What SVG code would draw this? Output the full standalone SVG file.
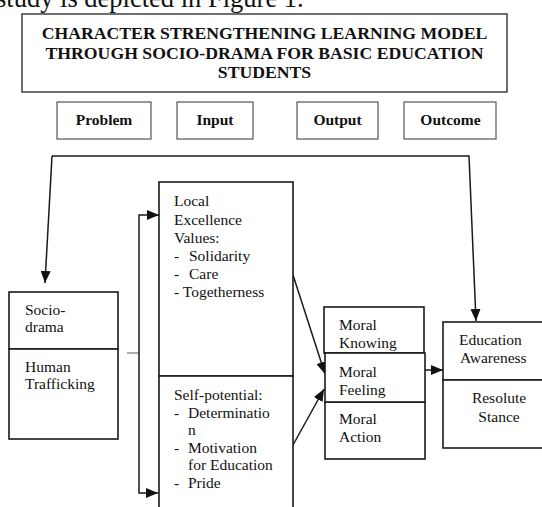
<svg xmlns="http://www.w3.org/2000/svg" width="542" height="507" viewBox="0 0 542 507">
<style>
  .box { fill: #fff; stroke: #1a1a1a; stroke-width: 1.6; }
  .hbox { fill: #fff; stroke: #555; stroke-width: 1.2; }
  .tbox { fill: #fff; stroke: #333; stroke-width: 1.4; }
  .t { font-family: "Liberation Serif", "Times New Roman", serif; font-size: 15.5px; fill: #111; }
  .h { font-family: "Liberation Serif", "Times New Roman", serif; font-size: 15.5px; font-weight: bold; fill: #111; text-anchor: middle; }
  .title { font-family: "Liberation Serif", "Times New Roman", serif; font-size: 17.7px; font-weight: bold; fill: #111; text-anchor: middle; }
  .c { fill: none; stroke: #1a1a1a; stroke-width: 1.5; }
  .stub { fill: none; stroke: #777; stroke-width: 1.2; }
</style>
<defs>
  <marker id="ah" markerUnits="userSpaceOnUse" markerWidth="12" markerHeight="10" refX="12" refY="5" orient="auto">
    <path d="M0,0 L12,5 L0,10 z" fill="#111"/>
  </marker>
</defs>
<rect width="542" height="507" fill="#fff"/>
<text x="-4" y="7" font-family="Liberation Serif, serif" font-size="26.5" fill="#111">study is depicted in Figure 1.</text>

<g id="title">
  <rect class="tbox" x="22" y="14" width="485" height="78"/>
  <text class="title" x="264.5" y="39">CHARACTER STRENGTHENING LEARNING MODEL</text>
  <text class="title" x="264.5" y="58.5">THROUGH SOCIO-DRAMA FOR BASIC EDUCATION</text>
  <text class="title" x="264.5" y="78">STUDENTS</text>
</g>

<g id="problem"><rect class="hbox" x="57" y="102" width="94" height="37"/><text class="h" x="104" y="124.5">Problem</text></g>
<g id="input"><rect class="hbox" x="177" y="102" width="76" height="37"/><text class="h" x="215" y="124.5">Input</text></g>
<g id="output"><rect class="hbox" x="297" y="102" width="81" height="37"/><text class="h" x="337.5" y="124.5">Output</text></g>
<g id="outcome"><rect class="hbox" x="404" y="102" width="92" height="37"/><text class="h" x="450.5" y="124.5">Outcome</text></g>

<g id="connectors">
  <path class="c" d="M52,156 L45,283" marker-end="url(#ah)"/>
  <path class="c" d="M52,156 L469,156 L476,321" marker-end="url(#ah)"/>
  <path class="stub" d="M127,353 L139,353"/>
  <path class="c" d="M139,353 L139,215 L159,215" marker-end="url(#ah)"/>
  <path class="c" d="M139,353 L139,493 L158,493" marker-end="url(#ah)"/>
  <path class="c" d="M293,275 L325,374" marker-end="url(#ah)"/>
  <path class="c" d="M293,445 L324,389" marker-end="url(#ah)"/>
  <path class="c" d="M425,370 L443,370" marker-end="url(#ah)"/>
</g>

<g id="sociodrama">
  <rect class="box" x="9" y="292" width="109" height="57"/>
  <text class="t" x="25" y="315">Socio-</text>
  <text class="t" x="25" y="332">drama</text>
</g>
<g id="trafficking">
  <rect class="box" x="9" y="349" width="109" height="90"/>
  <text class="t" x="25" y="372">Human</text>
  <text class="t" x="25" y="389">Trafficking</text>
</g>

<g id="local-values">
  <rect class="box" x="159" y="182" width="134" height="194"/>
  <text class="t" x="174" y="206">Local</text>
  <text class="t" x="174" y="224.5">Excellence</text>
  <text class="t" x="174" y="243">Values:</text>
  <text class="t" x="174" y="261">-</text><text class="t" x="189" y="261">Solidarity</text>
  <text class="t" x="174" y="279">-</text><text class="t" x="189" y="279">Care</text>
  <text class="t" x="174" y="297">- Togetherness</text>
</g>
<g id="self-potential">
  <rect class="box" x="159" y="376" width="134" height="140"/>
  <text class="t" x="174" y="400">Self-potential:</text>
  <text class="t" x="174" y="417.5">-</text><text class="t" x="188" y="417.5">Determinatio</text>
  <text class="t" x="188" y="435">n</text>
  <text class="t" x="174" y="452.5">-</text><text class="t" x="188" y="452.5">Motivation</text>
  <text class="t" x="188" y="470">for Education</text>
  <text class="t" x="174" y="488">-</text><text class="t" x="188" y="488">Pride</text>
</g>

<g id="moral-knowing">
  <rect class="box" x="324" y="307" width="100" height="46"/>
  <text class="t" x="339" y="330">Moral</text>
  <text class="t" x="339" y="348">Knowing</text>
</g>
<g id="moral-action">
  <rect class="box" x="325" y="402" width="100" height="57"/>
  <text class="t" x="339" y="423.5">Moral</text>
  <text class="t" x="339" y="441.5">Action</text>
</g>
<g id="moral-feeling">
  <rect class="box" x="325" y="353" width="100" height="49"/>
  <text class="t" x="339" y="377">Moral</text>
  <text class="t" x="339" y="394.5">Feeling</text>
</g>

<g id="education-awareness">
  <rect class="box" x="443" y="322" width="113" height="58"/>
  <text class="t" x="459" y="345">Education</text>
  <text class="t" x="460" y="363">Awareness</text>
</g>
<g id="resolute-stance">
  <rect class="box" x="443" y="380" width="113" height="68"/>
  <text class="t" x="499" y="403" text-anchor="middle">Resolute</text>
  <text class="t" x="499" y="421.5" text-anchor="middle">Stance</text>
</g>
</svg>
